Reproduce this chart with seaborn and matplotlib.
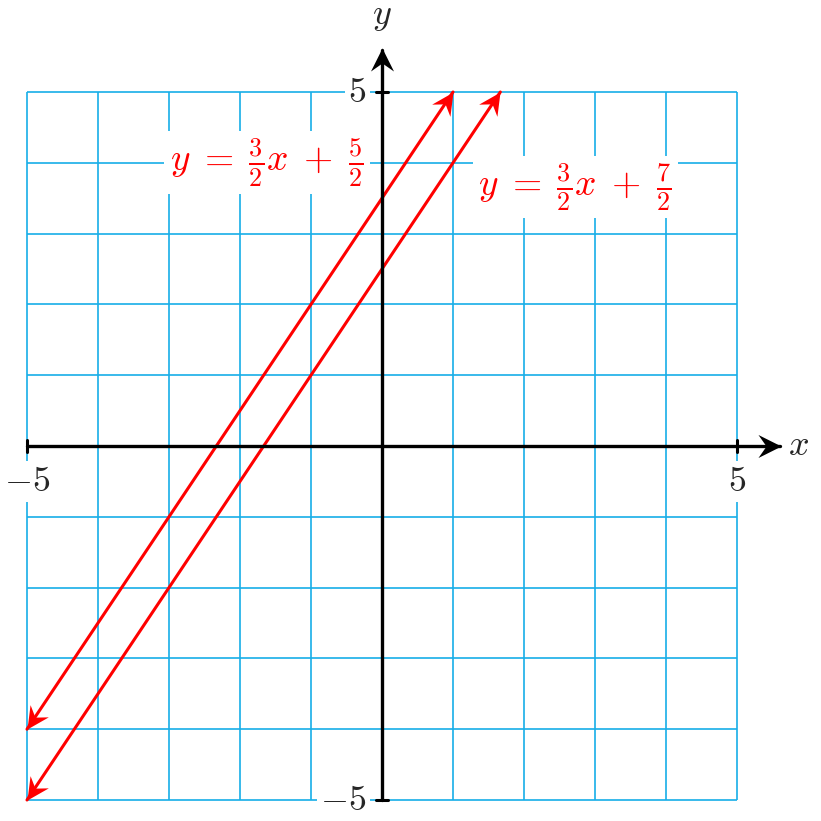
import matplotlib
matplotlib.use("Agg")
import matplotlib.pyplot as plt
from matplotlib.path import Path
from matplotlib.markers import MarkerStyle
from matplotlib.transforms import Affine2D
import seaborn as sns
import numpy as np
import pandas as pd

sns.set_style("white")
plt.rcParams['mathtext.fontset'] = 'cm'
plt.rcParams['font.family'] = ['DejaVu Serif']

# data
grid_vals = list(range(-5, 6))
line_names = ["upper", "lower"]
line_x_start = [-5.0, -5.0]
line_x_end = [1.0, 5.0 / 3.0]
slopes = [1.5, 1.5]
intercepts = [3.5, 2.5]
label_texts = [r'$y\;=\;\frac{3}{2}x\;+\;\frac{5}{2}$', r'$y\;=\;\frac{3}{2}x\;+\;\frac{7}{2}$']
label_pos = [(-1.62, 4.0), (2.72, 3.66)]
tick_labels_x = {-5: r'$-5$', 5: r'$5$'}
tick_labels_y = {5: r'$5$', -5: r'$-5$'}

grid_color = "#17aee8"
red = "#ff0000"

fig = plt.figure(figsize=(8.21, 8.21), dpi=100)
ax = fig.add_axes([0, 0, 1, 1])
px = 71.0
ax.set_xlim(-5 - 27 / px, -5 + 794 / px)
ax.set_ylim(5 - 729 / 70.8, 5 + 92 / 70.8)
ax.axis("off")

# stealth arrowhead marker, tip at origin pointing +x
stealth = Path([(0, 0), (-1.0, 0.5), (-0.65, 0), (-1.0, -0.5), (0, 0)],
               [Path.MOVETO, Path.LINETO, Path.LINETO, Path.LINETO, Path.CLOSEPOLY])


def head(x, y, angle_deg, color, size):
    m = MarkerStyle(stealth, transform=Affine2D().rotate_deg(angle_deg))
    ax.scatter([x], [y], marker=m, s=size, color=color, linewidths=0, zorder=8)


# grid
ax.hlines(grid_vals, -5, 5, color=grid_color, lw=1.2, zorder=1)
ax.vlines(grid_vals, -5, 5, color=grid_color, lw=1.2, zorder=1)

# lines
rows = []
for n, x0, x1, m, b in zip(line_names, line_x_start, line_x_end, slopes, intercepts):
    for xv in (x0, x1):
        rows.append({"name": n, "x": xv, "y": m * xv + b})
df = pd.DataFrame(rows)
sns.lineplot(data=df, x="x", y="y", units="name", estimator=None, color=red,
             lw=2.2, ax=ax, zorder=4, legend=False)
ang = np.degrees(np.arctan(1.5 * 70.8 / 71.0))
for n, x0, x1, m, b in zip(line_names, line_x_start, line_x_end, slopes, intercepts):
    head(x0, m * x0 + b, ang + 180, red, 1000)
    head(x1, m * x1 + b, ang, red, 1000)

# axes
ax.plot([-5, 5.6], [0, 0], color="black", lw=2.4, zorder=6)
ax.plot([0, 0], [-5, 5.6], color="black", lw=2.4, zorder=6)
head(5.62, 0, 0, "black", 1100)
head(0, 5.62, 90, "black", 1100)
# tick marks
for xv in (-5, 5):
    ax.plot([xv, xv], [-0.09, 0.09], color="black", lw=2.2, zorder=6)
for yv in (-5, 5):
    ax.plot([-0.09, 0.09], [yv, yv], color="black", lw=2.2, zorder=6)

bbox = dict(boxstyle="square,pad=0.1", fc="white", ec="none")
for xv, t in tick_labels_x.items():
    ax.text(xv, -0.26, t, ha="center", va="top", fontsize=26, zorder=7, bbox=bbox)
for yv, t in tick_labels_y.items():
    ax.text(-0.22, yv, t, ha="right", va="center", fontsize=26, zorder=7, bbox=bbox)
ax.text(5.87, 0.02, r'$x$', ha="center", va="center", fontsize=26)
ax.text(0, 6.08, r'$y$', ha="center", va="center", fontsize=26)

for t, (lx, ly) in zip(label_texts, label_pos):
    ax.text(lx, ly, t, ha="center", va="center", fontsize=27, color=red, zorder=7,
            bbox=dict(boxstyle="square,pad=0.15", fc="white", ec="none"))

fig.savefig("out.png", dpi=100)
